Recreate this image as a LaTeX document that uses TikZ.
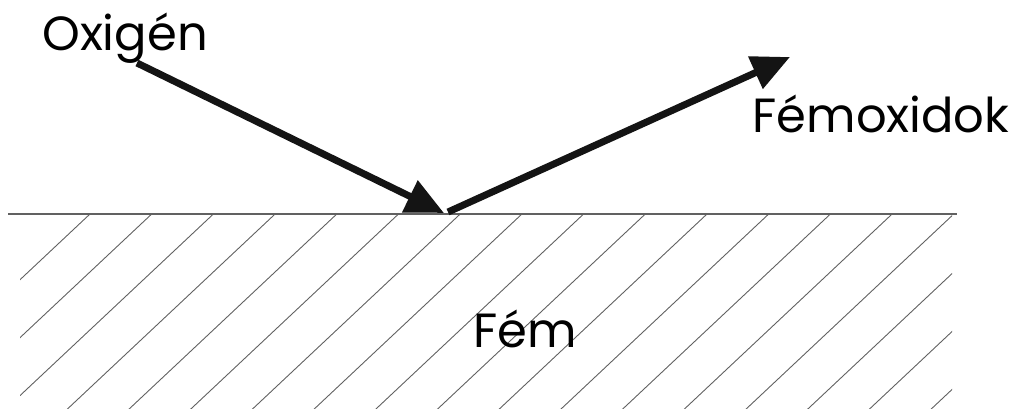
\documentclass[tikz,border=0pt]{standalone}
\usepackage{fontspec}
\setmainfont{Poppins}
\usetikzlibrary{arrows.meta}
\definecolor{vonalszurke}{rgb}{0.38,0.38,0.38}
\tikzset{
  felirat/.style={
    inner sep=0pt,
    anchor=base,
    font=\fontsize{48}{58}\selectfont
  },
  nyil/.style={
    -{Triangle[length=38pt,width=34pt]},
    line width=7pt,
    black!92
  },
  felszin/.style={
    line width=1.6pt,
    draw=vonalszurke
  },
  sraffoz/.style={
    line width=0.9pt,
    draw=vonalszurke
  }
}
\begin{document}
\begin{tikzpicture}[x=1pt,y=-1pt]
\useasboundingbox (0,0) rectangle (1014,410);
% fem, sraffozva
\begin{scope}
\clip (20,214) rectangle (952,408);
\foreach \i in {0,...,17}
  \draw[sraffoz] ({90+61.7*\i},214) -- ++(-213,200);
\end{scope}
\draw[felszin] (8,214) -- (957,214);
\node[felirat] (oxigen) at (125,50) {Oxigén};
\node[felirat] (oxidok) at (881,132) {Fémoxidok};
\node[felirat] (fem) at (525,347) {Fém};
\coordinate (be) at (137,63);
\coordinate (becsap) at (444,213);
\coordinate (kiindul) at (448,212);
\coordinate (ki) at (790,57);
\draw[nyil] (be) -- (becsap);
\draw[nyil] (kiindul) -- (ki);
\end{tikzpicture}
\end{document}
